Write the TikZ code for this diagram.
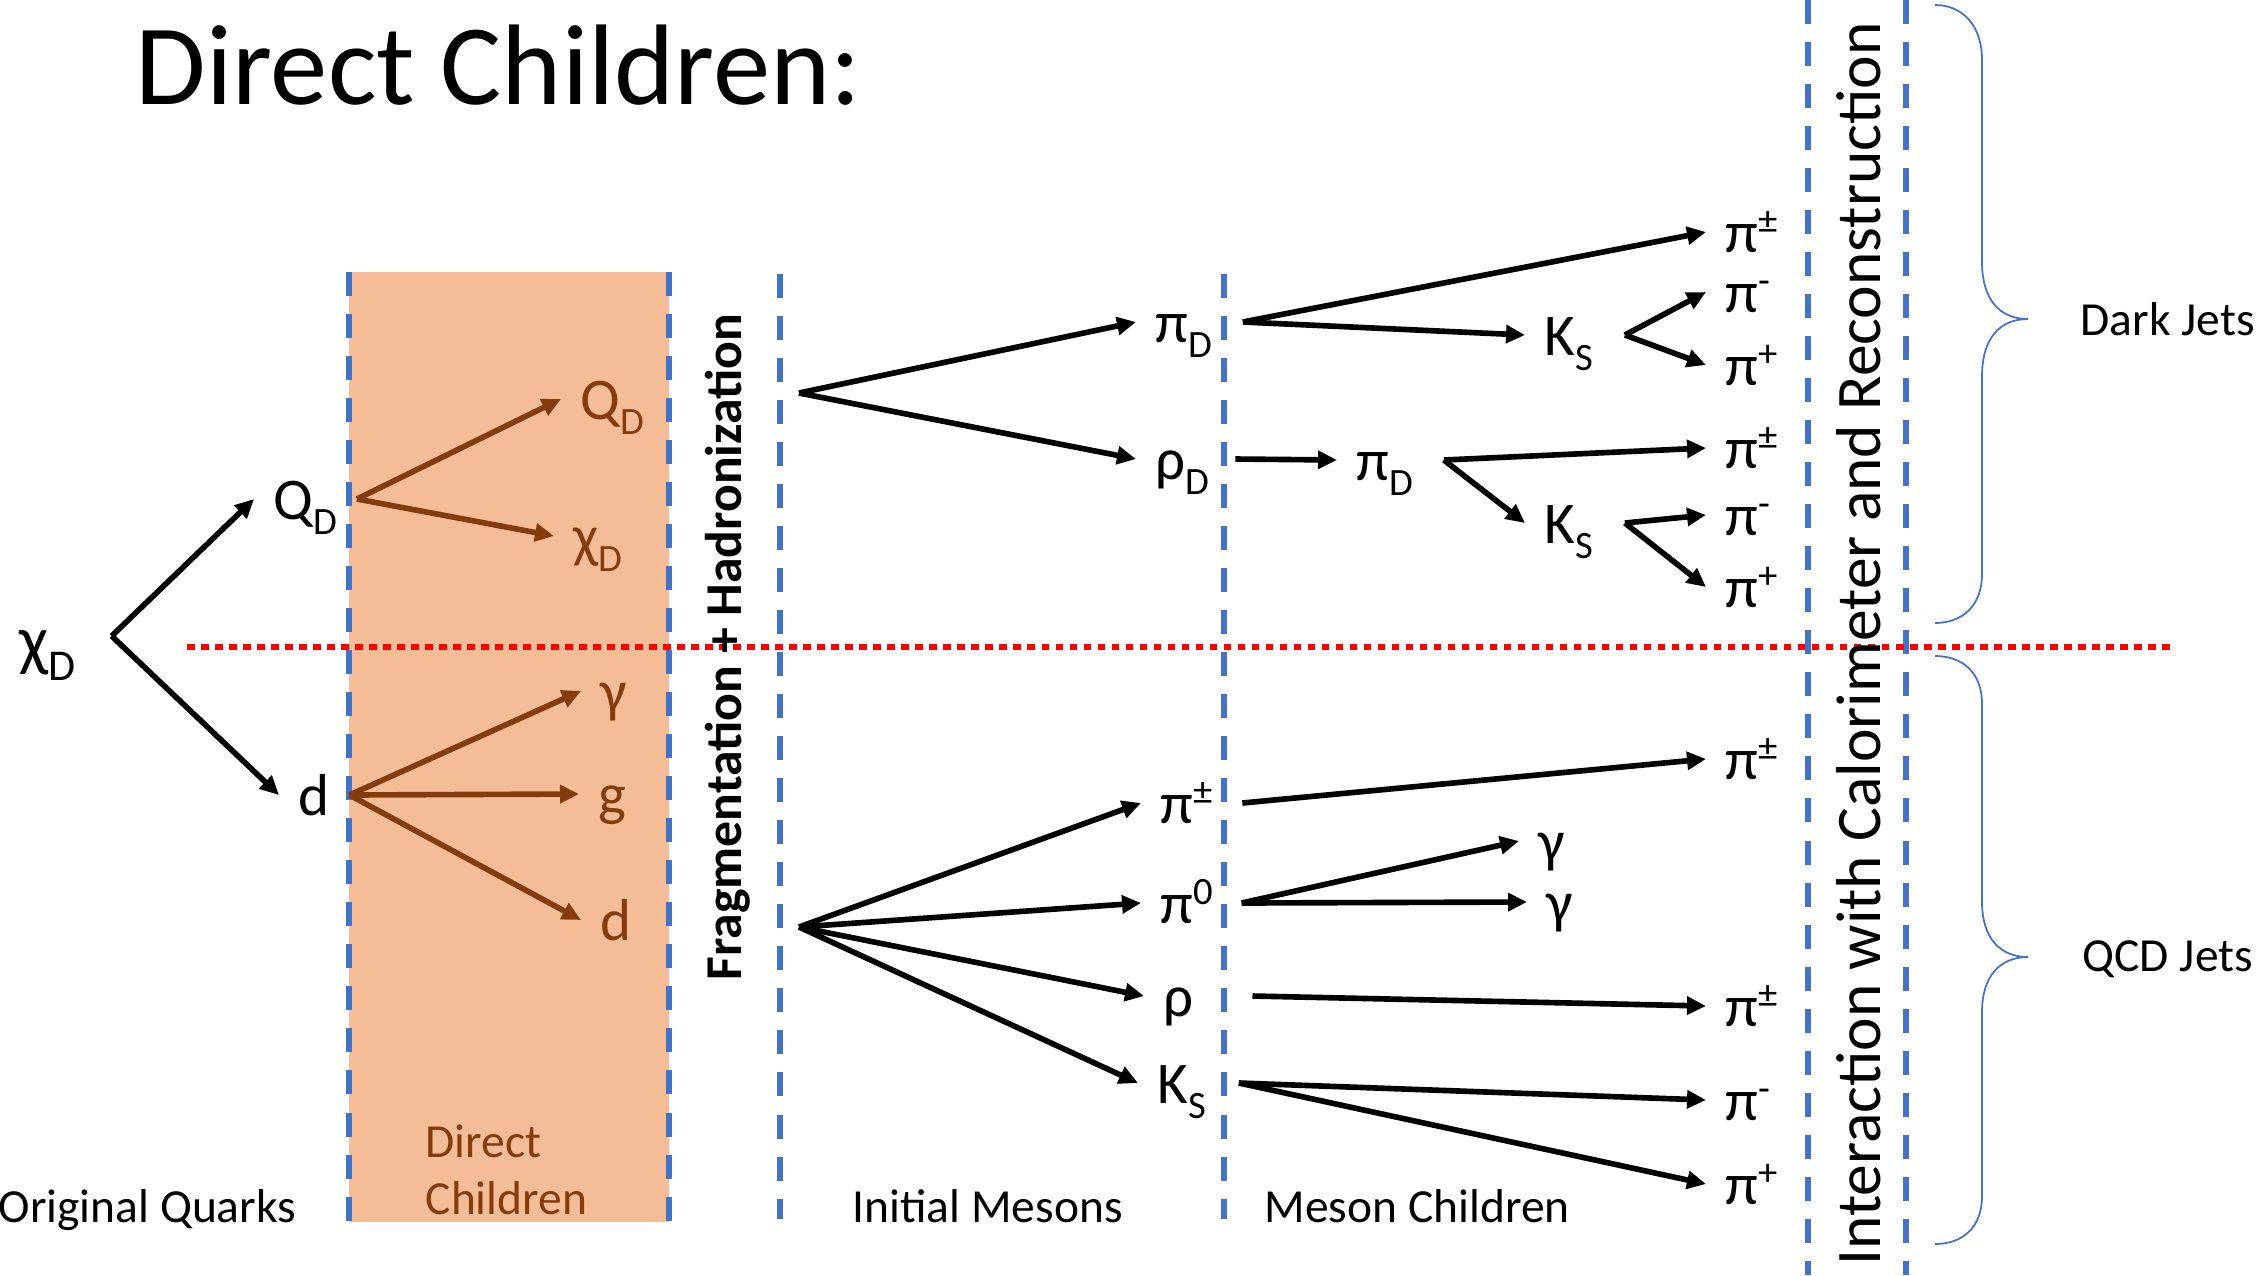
\documentclass[tikz,border=0pt]{standalone}
\usepackage{fontspec}
\setmainfont{Carlito}
\usetikzlibrary{arrows.meta}

\definecolor{boxfill}{HTML}{F5BD97}
\definecolor{brownish}{HTML}{843C0C}
\definecolor{lineblue}{HTML}{4472C4}

% sub- and superscripts as in the slide
\newcommand{\lo}[1]{\raisebox{-4.5pt}{\fontsize{11pt}{11pt}\selectfont #1}}
\newcommand{\hi}[1]{\raisebox{5.4pt}{\fontsize{11pt}{11pt}\selectfont #1}}

\begin{document}
\begin{tikzpicture}[x=0.01cm, y=-0.01cm,
    part/.style={inner sep=0pt, anchor=base west, font=\fontsize{16.8pt}{20pt}\selectfont},
    kid/.style={part, text=brownish},
    caption/.style={inner sep=0pt, anchor=base west, font=\fontsize{13.5pt}{16.2pt}\selectfont},
    arr/.style={line width=1.6pt, -{Triangle[length=5.4pt,width=5pt]}},
    karr/.style={arr, draw=brownish},
    sep/.style={lineblue, line width=1.7pt, dash pattern=on 0.24cm off 0.18cm},
    brace/.style={lineblue, line width=0.5pt}]
	\useasboundingbox (0,0) rectangle (2261,1275);
	%\draw[step=100,color=gray] (0,0) grid (2261,1275);

	\fill[boxfill] (349,272) rectangle (669,1222);
	\foreach \x in {349,669} \draw[sep] (\x,272) -- (\x,1222);
	\foreach \x in {780,1224} \draw[sep] (\x,274) -- (\x,1219);
	\foreach \x in {1808,1906} \draw[sep] (\x,0) -- (\x,1275);
	\draw[red, line width=1.7pt, dash pattern=on 0.075cm off 0.065cm] (187,647) -- (2175,647);

	% braces
	\draw[brace] (1935,5) .. controls (1962,5) and (1982,25) .. (1982,60) -- (1982,262)
		.. controls (1982,300) and (2000,319) .. (2028,319)
		.. controls (2000,319) and (1982,338) .. (1982,376) -- (1982,574)
		.. controls (1982,606) and (1962,623) .. (1935,623);
	\draw[brace] (1935,656) .. controls (1962,656) and (1982,672) .. (1982,704) -- (1982,902)
		.. controls (1982,938) and (2000,957) .. (2028,957)
		.. controls (2000,957) and (1982,976) .. (1982,1012) -- (1982,1196)
		.. controls (1982,1228) and (1962,1244) .. (1935,1244);
	\node[caption] (dark) at (2080,335) {Dark Jets};
	\node[caption] (qcd) at (2082,971) {QCD Jets};

	\node[anchor=base west, inner sep=0pt, font=\fontsize{32.6pt}{38pt}\selectfont] (title) at (135,104) {Direct Children:};
	\node[rotate=90, anchor=base, inner sep=0pt, font=\bfseries\fontsize{14.7pt}{17pt}\selectfont] (frag) at (741,647) {Fragmentation + Hadronization};
	\node[rotate=90, anchor=base, inner sep=0pt, font=\fontsize{18.05pt}{21pt}\selectfont] (calo) at (1880,644) {Interaction with Calorimeter and Reconstruction};

	\node[caption] (origq) at (-2,1222) {Original Quarks};
	\node[caption, text=brownish, align=left] (directc) at (425,1214) {Direct\\Children};
	\node[caption] (initm) at (852,1222) {Initial Mesons};
	\node[caption] (mesonc) at (1264,1222) {Meson Children};

	% original quarks and direct children
	\node[part, font=\fontsize{19.5pt}{22pt}\selectfont] (chiD) at (19,663) {χ\raisebox{-5pt}{\fontsize{12.5pt}{12.5pt}\selectfont D}};
	\node[part] (qD) at (273,519) {Q\lo{D}};
	\node[part] (dq) at (298,815) {d};
	\node[kid] (qD2) at (580,419) {Q\lo{D}};
	\node[kid] (chiD2) at (573,556) {χ\lo{D}};
	\node[kid] (gam) at (600,711) {γ};
	\node[kid] (glu) at (598,814) {g};
	\node[kid] (dq2) at (600,940) {d};

	% dark mesons
	\node[part] (piD) at (1155,342) {π\lo{D}};
	\node[part] (rhoD) at (1155,479) {ρ\lo{D}};
	\node[part] (piD2) at (1356,480) {π\lo{D}};
	\node[part] (ksA) at (1544,355) {K\lo{S}};
	\node[part] (ksB) at (1544,543) {K\lo{S}};
	\node[part] (pipmA) at (1725,252) {π\hi{±}};
	\node[part] (pimA) at (1725,312) {π\hi{-}};
	\node[part] (pipA) at (1725,385) {π\hi{+}};
	\node[part] (pipmB) at (1725,468) {π\hi{±}};
	\node[part] (pimB) at (1725,535) {π\hi{-}};
	\node[part] (pipB) at (1725,607) {π\hi{+}};

	% qcd mesons
	\node[part] (pipmC) at (1160,823) {π\hi{±}};
	\node[part] (pizC) at (1160,923) {π\hi{0}};
	\node[part] (rhoC) at (1163,1016) {ρ};
	\node[part] (ksC) at (1157,1103) {K\lo{S}};
	\node[part] (pipmD) at (1725,779) {π\hi{±}};
	\node[part] (gamA) at (1538,861) {γ};
	\node[part] (gamB) at (1546,922) {γ};
	\node[part] (pipmE) at (1725,1026) {π\hi{±}};
	\node[part] (pimE) at (1725,1120) {π\hi{-}};
	\node[part] (pipE) at (1725,1204) {π\hi{+}};

	% where the arrows leave and reach the labels
	\foreach \n in {qD,dq,qD2,chiD2,gam,glu,dq2,piD,rhoD,piD2,ksA,ksB,pipmA,pimA,pipA,pipmB,pimB,pipB,
		pipmC,pizC,rhoC,ksC,pipmD,gamA,gamB,pipmE,pimE,pipE}
		\coordinate (\n-in) at ([shift={(-19,-20)}]\n.base west);
	\foreach \n/\dx in {qD/19,dq/19,piD/30,rhoD/25,piD2/30,ksA/31,ksB/31,pipmC/29,pizC/28,rhoC/58,ksC/32}
		\coordinate (\n-out) at ([shift={(\dx,-20)}]\n.base east);
	\coordinate (chiD-out) at ([shift={(35,-27)}]chiD.base east);
	\coordinate (hadU) at (799,393);
	\coordinate (hadL) at (799,927);

	\draw[arr] (chiD-out) -- (qD-in);
	\draw[arr] (chiD-out) -- (dq-in);
	\foreach \n in {qD2,chiD2} \draw[karr] (qD-out) -- (\n-in);
	\foreach \n in {gam,glu,dq2} \draw[karr] (dq-out) -- (\n-in);

	\foreach \n in {piD,rhoD} \draw[arr] (hadU) -- (\n-in);
	\foreach \n in {pipmA,ksA} \draw[arr] (piD-out) -- (\n-in);
	\foreach \n in {pimA,pipA} \draw[arr] (ksA-out) -- (\n-in);
	\draw[arr] (rhoD-out) -- (piD2-in);
	\foreach \n in {pipmB,ksB} \draw[arr] (piD2-out) -- (\n-in);
	\foreach \n in {pimB,pipB} \draw[arr] (ksB-out) -- (\n-in);

	\foreach \n in {pipmC,pizC,rhoC,ksC} \draw[arr] (hadL) -- (\n-in);
	\draw[arr] (pipmC-out) -- (pipmD-in);
	\foreach \n in {gamA,gamB} \draw[arr] (pizC-out) -- (\n-in);
	\draw[arr] (rhoC-out) -- (pipmE-in);
	\foreach \n in {pimE,pipE} \draw[arr] (ksC-out) -- (\n-in);
\end{tikzpicture}
\end{document}
